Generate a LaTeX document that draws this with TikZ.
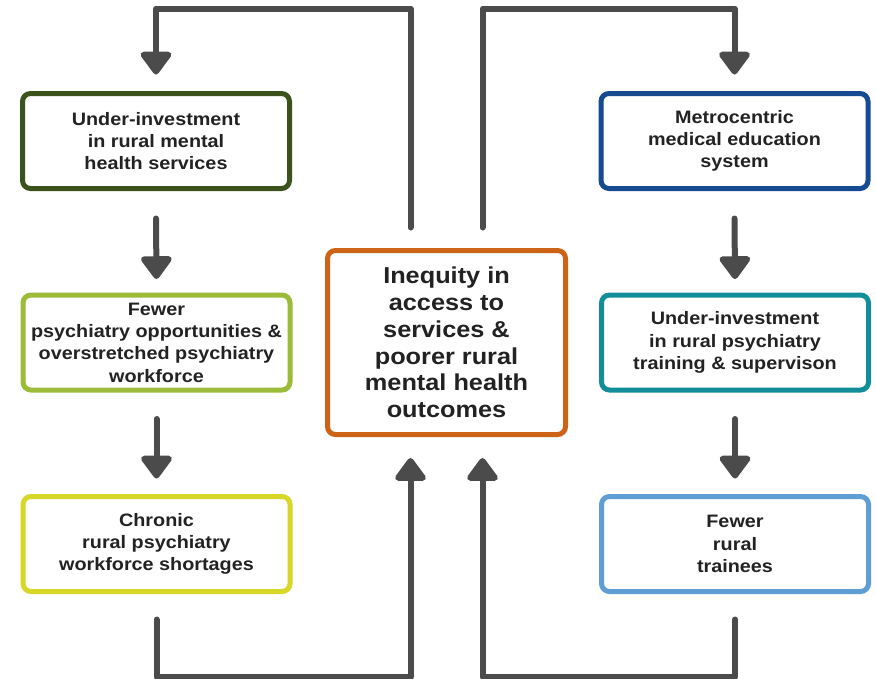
\documentclass[tikz,border=0pt]{standalone}
\usepackage{fontspec}
\newfontfamily\lbf{Liberation Sans}[FakeStretch=1.1]
\usetikzlibrary{arrows.meta}
\definecolor{cLa}{RGB}{60,82,28}
\definecolor{cLb}{RGB}{155,187,57}
\definecolor{cLc}{RGB}{215,215,40}
\definecolor{cRa}{RGB}{22,75,145}
\definecolor{cRb}{RGB}{18,142,155}
\definecolor{cRc}{RGB}{95,158,213}
\definecolor{cC}{RGB}{204,99,22}
\definecolor{arrgray}{RGB}{75,75,75}
\definecolor{txt}{RGB}{34,34,34}
\begin{document}
\begin{tikzpicture}[x=1pt,y=-1pt,
  box/.style={draw, rounded corners=8pt, line width=5pt, fill=white,
    minimum width=267pt, minimum height=95pt, align=center, inner sep=0pt,
    text=txt, font=\lbf\bfseries\fontsize{18}{22.3}\selectfont},
  cbox/.style={box, minimum width=238pt, minimum height=184pt,
    font=\lbf\bfseries\fontsize{23}{26.7}\selectfont},
  arr/.style={line width=6pt, draw=arrgray, line cap=round, line join=round,
    -{Triangle[width=35pt,length=25pt,round]}}]
\useasboundingbox (0,0) rectangle (876,678);
\node[box,draw=cLa] (L1) at (156,141) {Under-investment\\in rural mental\\health services};
\node[box,draw=cLb] (L2) at (156.5,342.5) {Fewer\\psychiatry opportunities \&\\overstretched psychiatry\\workforce};
\node[box,draw=cLc] (L3) at (156.5,544) {Chronic\\rural psychiatry\\workforce shortages};
\node[box,draw=cRa] (R1) at (734.5,141) {Metrocentric\\medical education\\system};
\node[box,draw=cRb] (R2) at (735,342.5) {Under-investment\\in rural psychiatry\\training \& supervison};
\node[box,draw=cRc] (R3) at (735,544) {Fewer\\rural\\trainees};
\node[cbox,draw=cC] (C) at (446.5,342.5) {Inequity in\\access to\\services \&\\poorer rural\\mental health\\outcomes};
\draw[arr] ([xshift=-36pt,yshift=20.5pt]C.north) -- ++(0,-219) -| ([yshift=16.5pt]L1.north);
\draw[arr] ([xshift=36pt,yshift=20.5pt]C.north) -- ++(0,-219) -| ([yshift=16.5pt]R1.north);
\draw[arr] ([yshift=-27.5pt]L1.south) -- ([yshift=13.5pt]L2.north);
\draw[arr] ([yshift=-26.5pt]L2.south) -- ([yshift=15.5pt]L3.north);
\draw[arr] ([yshift=-27.5pt]R1.south) -- ([yshift=13.5pt]R2.north);
\draw[arr] ([yshift=-26.5pt]R2.south) -- ([yshift=15.5pt]R3.north);
\draw[arr] ([yshift=-25.5pt]L3.south) -- ++(0,57) -| ([xshift=-36pt,yshift=-21pt]C.south);
\draw[arr] ([yshift=-25.5pt]R3.south) -- ++(0,57) -| ([xshift=36pt,yshift=-21pt]C.south);
\end{tikzpicture}
\end{document}
